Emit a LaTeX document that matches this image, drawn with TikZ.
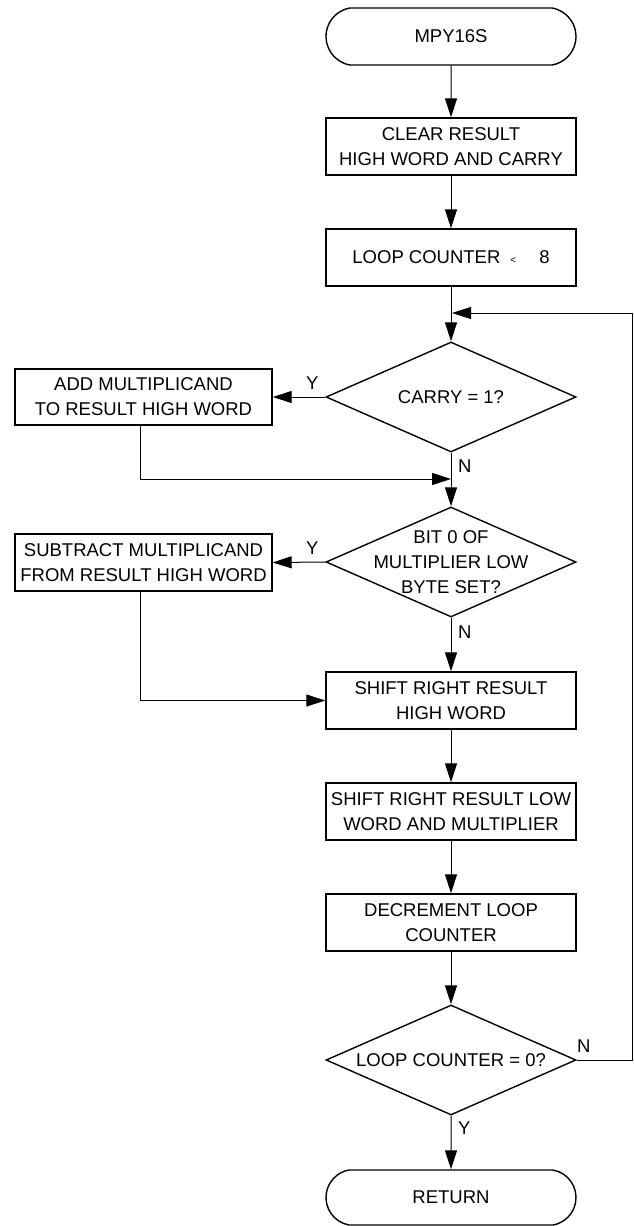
\documentclass[tikz,border=0pt]{standalone}
\usepackage{fontspec}
\setmainfont{Liberation Sans}
\usetikzlibrary{shapes.geometric,shapes.misc,arrows.meta}
\begin{document}
\begin{tikzpicture}[x=1pt,y=-1pt,
  font=\fontsize{18.5}{25}\selectfont,
  box/.style={draw, line width=1.4pt, minimum width=250pt, minimum height=57pt, inner sep=0pt, align=center},
  sidebox/.style={box, minimum width=257pt},
  term/.style={draw, line width=1.4pt, rounded rectangle, rounded rectangle arc length=160, minimum width=250pt, minimum height=57pt, inner sep=0pt},
  dia/.style={draw, line width=1.4pt, diamond, minimum width=250pt, minimum height=110pt, inner sep=0pt},
  conn/.style={line width=1pt, -{Triangle[length=19pt,width=12pt]}},
  lbl/.style={inner sep=0pt, anchor=west}
]
\useasboundingbox (0,0) rectangle (634,1226);

\node[term] (start) at (451,36.5) {MPY16S};
\node[box] (clear) at (451,146.5) {CLEAR RESULT\\HIGH WORD AND CARRY};
\node[box] (loop) at (451,257.5) {LOOP COUNTER\hspace{10pt}{\fontsize{10}{10}\selectfont <}\hspace{23pt}8};
\node[dia] (carry) at (451,397) {};
\node at (carry) {CARRY = 1?};
\node[sidebox, minimum height=56pt] (add) at (143.5,397) {ADD MULTIPLICAND\\TO RESULT HIGH WORD};
\node[dia] (bit) at (451,562) {};
\node[align=center] at (bit) {BIT 0 OF\\MULTIPLIER LOW\\BYTE SET?};
\node[sidebox] (sub) at (143.5,562.5) {SUBTRACT MULTIPLICAND\\FROM RESULT HIGH WORD};
\node[box] (shr) at (451,700.5) {SHIFT RIGHT RESULT\\HIGH WORD};
\node[box] (shl) at (451,811.5) {SHIFT RIGHT RESULT LOW\\WORD AND MULTIPLIER};
\node[box] (dec) at (451,922.5) {DECREMENT LOOP\\COUNTER};
\node[dia] (lc0) at (451,1060) {};
\node at (lc0) {LOOP COUNTER = 0?};
\node[term, minimum height=55pt] (ret) at (451,1197.5) {RETURN};

\coordinate (loopin) at (452,313);
\coordinate (merge1) at (451,479);
\coordinate (rc) at (632,1060);
\coordinate (rtop) at (632,313);

\draw[conn] (start) -- (clear);
\draw[conn] (clear) -- (loop);
\draw[conn] (loop) -- (carry);
\draw[conn] (lc0.east) -- (rc) -- (rtop) -- (loopin);
\draw[conn] (carry.west) -- (add.east);
\draw[conn] ([xshift=-3.5pt]add.south) |- (merge1);
\draw[conn] (carry.south) -- (bit.north);
\draw[conn] (bit.west) -- (sub.east);
\draw[conn] ([xshift=-3.5pt]sub.south) |- (shr.west);
\draw[conn] (bit.south) -- (shr.north);
\draw[conn] (shr) -- (shl);
\draw[conn] (shl) -- (dec);
\draw[conn] (dec) -- (lc0.north);
\draw[conn] (lc0.south) -- (ret);

\node[lbl] (y1) at (306,383) {Y};
\node[lbl] (n1) at (458,466) {N};
\node[lbl] (y2) at (306,548) {Y};
\node[lbl] (n2) at (458,632) {N};
\node[lbl] (n3) at (577,1046) {N};
\node[lbl] (y3) at (458,1128) {Y};
\end{tikzpicture}
\end{document}
